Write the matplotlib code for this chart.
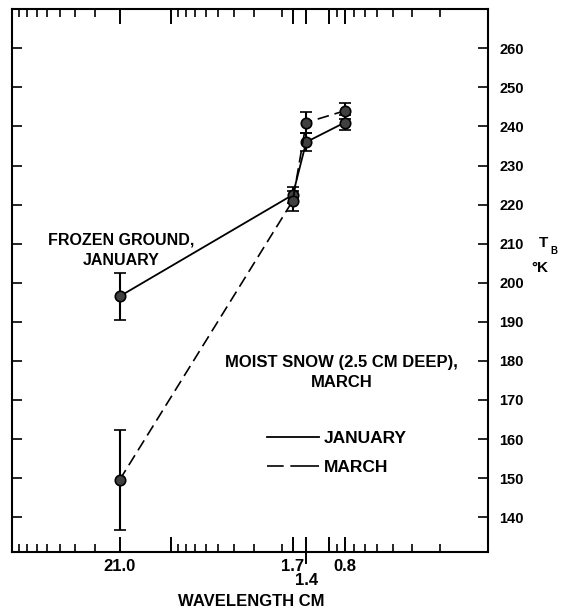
import matplotlib
matplotlib.use("Agg")
import matplotlib.pyplot as plt
import matplotlib.transforms as mtransforms
from matplotlib.lines import Line2D
from matplotlib.ticker import FixedLocator, FixedFormatter

plt.rcParams['font.family'] = ['Liberation Sans', 'DejaVu Sans']
plt.rcParams['font.weight'] = 'bold'

# === Data ===
wavelength_cm = [21.0, 1.7, 1.4, 0.8]
jan_tb = [196.5, 222.5, 236.0, 241.0]
jan_err = [6.0, 2.0, 2.2, 2.0]
mar_tb = [149.5, 221.0, 241.0, 244.0]
mar_err = [12.8, 2.6, 2.8, 2.0]

tick_labels = ['21.0', '', '1.7', '', '', '0.8']
major_ticks = [21.0, 10.0, 1.7, 1.4, 1.0, 0.8]
minor_ticks = [m * d for d in (0.1, 1.0, 10.0) for m in range(2, 10)
               if round(m * d, 3) not in (20.0, 0.8)]
y_ticks = list(range(140, 261, 10))

fig = plt.figure(figsize=(5.61, 6.16), dpi=100)
ax = fig.add_axes([0.0214, 0.1034, 0.8486, 0.8816])

ax.errorbar(wavelength_cm, jan_tb, yerr=jan_err, color='black', lw=1.3,
            elinewidth=1.5, capsize=4, capthick=1.5, marker='o', ms=7.5,
            mfc='#404040', mec='black', mew=1.2)
ax.errorbar(wavelength_cm, mar_tb, yerr=mar_err, color='black', lw=1.2,
            dashes=(7, 3.5), elinewidth=1.5, capsize=4, capthick=1.5,
            marker='o', ms=7.5, mfc='#404040', mec='black', mew=1.2)

ax.set_xscale('log')
ax.set_xlim(100, 0.1)
ax.set_ylim(131, 270)

ax.xaxis.set_major_locator(FixedLocator(major_ticks))
ax.xaxis.set_major_formatter(FixedFormatter(tick_labels))
ax.xaxis.set_minor_locator(FixedLocator(minor_ticks))
ax.xaxis.set_minor_formatter(FixedFormatter([]))
ax.set_yticks(y_ticks)

ax.tick_params(axis='x', which='major', direction='in', top=True, bottom=True,
               length=11, width=1.4, labelsize=12, pad=5)
ax.tick_params(axis='x', which='minor', direction='in', top=True, bottom=True,
               length=6, width=1.2)
ax.tick_params(axis='y', which='major', direction='in', left=True, right=True,
               labelleft=False, labelright=True, length=7, width=1.2,
               labelsize=10.5, pad=8)

for s in ax.spines.values():
    s.set_linewidth(1.5)

# 1.4 tick runs through the bottom axis, its label sits one row lower
trans = mtransforms.blended_transform_factory(ax.transData, ax.transAxes)
ax.plot([wavelength_cm[2], wavelength_cm[2]], [0, -0.02], color='black',
        lw=1.4, transform=trans, clip_on=False)
ax.text(wavelength_cm[2], -0.052, '1.4', transform=trans, ha='center',
        va='center', fontsize=12)

ax.text(0.23, 0.556, 'FROZEN GROUND,\nJANUARY', transform=ax.transAxes,
        ha='center', va='center', fontsize=11.5, linespacing=1.4)
ax.text(0.692, 0.331, 'MOIST SNOW (2.5 CM DEEP),\nMARCH', transform=ax.transAxes,
        ha='center', va='center', fontsize=12, linespacing=1.4)

handles = [Line2D([], [], color='black', lw=1.3),
           Line2D([], [], color='black', lw=1.2, dashes=(10, 4, 22, 4))]
ax.legend(handles, ['JANUARY', 'MARCH'], loc='upper left',
          bbox_to_anchor=(0.535, 0.224), frameon=False, fontsize=12.5,
          handlelength=3.0, handletextpad=0.3, labelspacing=0.8,
          borderpad=0, borderaxespad=0)

fig.text(251 / 561, 1 - 601 / 616, 'WAVELENGTH CM', fontsize=12,
         ha='center', va='center')

fig.text(0.969, 0.606, 'T', fontsize=11, ha='center', va='center')
fig.text(0.988, 0.592, 'B', fontsize=7, ha='center', va='center')
fig.text(0.963, 0.565, '°K', fontsize=11, ha='center', va='center')

fig.savefig('out.png', dpi=100)
